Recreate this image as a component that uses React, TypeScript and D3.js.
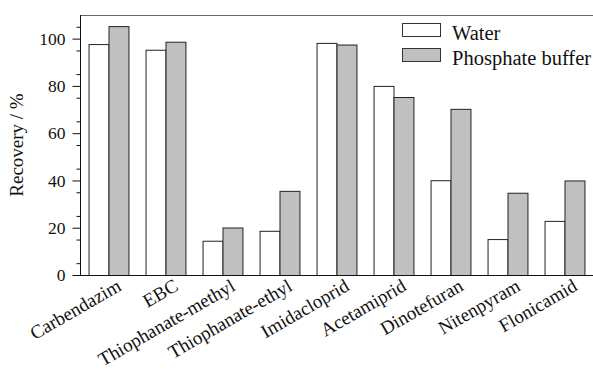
import React, { useRef, useEffect } from "react";
import * as d3 from "d3";

const categories = [
  "Carbendazim",
  "EBC",
  "Thiophanate-methyl",
  "Thiophanate-ethyl",
  "Imidacloprid",
  "Acetamiprid",
  "Dinotefuran",
  "Nitenpyram",
  "Flonicamid",
];
const water = [97.7, 95.3, 14.5, 18.7, 98.2, 80.0, 40.1, 15.2, 22.9];
const phosphate = [105.3, 98.7, 20.1, 35.6, 97.5, 75.3, 70.3, 34.8, 40.0];
const seriesNames = ["Water", "Phosphate buffer"];
const yTicks = [0, 20, 40, 60, 80, 100];

const App = () => {
  const ref = useRef<SVGSVGElement>(null);

  useEffect(() => {
    const width = 593;
    const height = 369;
    const margin = { top: 15, right: 0, bottom: 94, left: 80 };
    const font = "'Liberation Serif', 'Times New Roman', serif";
    const colors = ["#ffffff", "#c0c0c0"];

    const svg = d3.select(ref.current);
    svg.selectAll("*").remove();

    const x = d3.scaleBand<string>()
      .domain(categories)
      .range([margin.left, width - margin.right])
      .paddingInner(0.3)
      .paddingOuter(0.15);
    const x1 = d3.scaleBand<number>()
      .domain([0, 1])
      .range([0, x.bandwidth()]);
    const y = d3.scaleLinear()
      .domain([0, 110])
      .range([height - margin.bottom, margin.top]);

    const rows = categories.map((c, i) => ({ c, v: [water[i], phosphate[i]] }));

    const g = svg.append("g");
    const groups = g.selectAll("g.grp")
      .data(rows)
      .join("g")
      .attr("class", "grp")
      .attr("transform", d => `translate(${x(d.c)},0)`);
    groups.selectAll("rect")
      .data(d => d.v.map((v, k) => ({ v, k })))
      .join("rect")
      .attr("x", d => x1(d.k)! + 0.5)
      .attr("width", x1.bandwidth())
      .attr("y", d => y(d.v) + 0.5)
      .attr("height", d => y(0) - y(d.v))
      .attr("fill", d => colors[d.k])
      .attr("stroke", "#222")
      .attr("stroke-width", 1);

    // top frame line
    svg.append("line")
      .attr("x1", margin.left).attr("x2", width)
      .attr("y1", margin.top + 0.5).attr("y2", margin.top + 0.5)
      .attr("stroke", "#666").attr("stroke-width", 1);

    // y axis
    const yAxis = d3.axisLeft(y).tickValues(yTicks).tickSize(8).tickPadding(7);
    const ya = svg.append("g")
      .attr("transform", `translate(${margin.left + 0.5},0)`)
      .call(yAxis);
    ya.select(".domain").attr("stroke", "#111").attr("d", `M0,${margin.top}V${y(0)}`);
    ya.selectAll("line").attr("stroke", "#111");
    ya.selectAll("text").attr("font-family", font).attr("font-size", 17.5).attr("fill", "#111");
    const minor = d3.range(5, 110, 10);
    ya.selectAll("line.minor")
      .data(minor)
      .join("line")
      .attr("class", "minor")
      .attr("x1", -4).attr("x2", 0)
      .attr("y1", d => y(d) + 0.5).attr("y2", d => y(d) + 0.5)
      .attr("stroke", "#111");

    // x axis
    const xa = svg.append("g")
      .attr("transform", `translate(0,${y(0) + 0.5})`)
      .call(d3.axisBottom(x).tickSize(0).tickPadding(0));
    xa.select(".domain").attr("stroke", "#111").attr("d", `M${margin.left},0H${width}`);
    xa.selectAll("text")
      .attr("font-family", font)
      .attr("font-size", 19)
      .attr("fill", "#111")
      .attr("text-anchor", "end")
      .attr("dy", null)
      .attr("y", 0)
      .attr("transform", "translate(14,14) rotate(-30)");

    // y label
    svg.append("text")
      .attr("transform", `translate(23,${(margin.top + y(0)) / 2}) rotate(-90)`)
      .attr("text-anchor", "middle")
      .attr("font-family", font)
      .attr("font-size", 19)
      .attr("fill", "#111")
      .text("Recovery / %");

    // legend
    const leg = svg.append("g").attr("transform", "translate(402,23)");
    seriesNames.forEach((name, i) => {
      leg.append("rect")
        .attr("x", 0.5).attr("y", i * 25 + 0.5)
        .attr("width", 38).attr("height", 13)
        .attr("fill", colors[i]).attr("stroke", "#333");
      leg.append("text")
        .attr("x", 50).attr("y", i * 25 + 17)
        .attr("font-family", font).attr("font-size", 20.5).attr("fill", "#111")
        .text(name);
    });
  }, []);

  return (
    <svg
      ref={ref}
      width={593}
      height={369}
      style={{ position: "absolute", left: 0, top: 0, background: "#fff" }}
    />
  );
};

export default App;
